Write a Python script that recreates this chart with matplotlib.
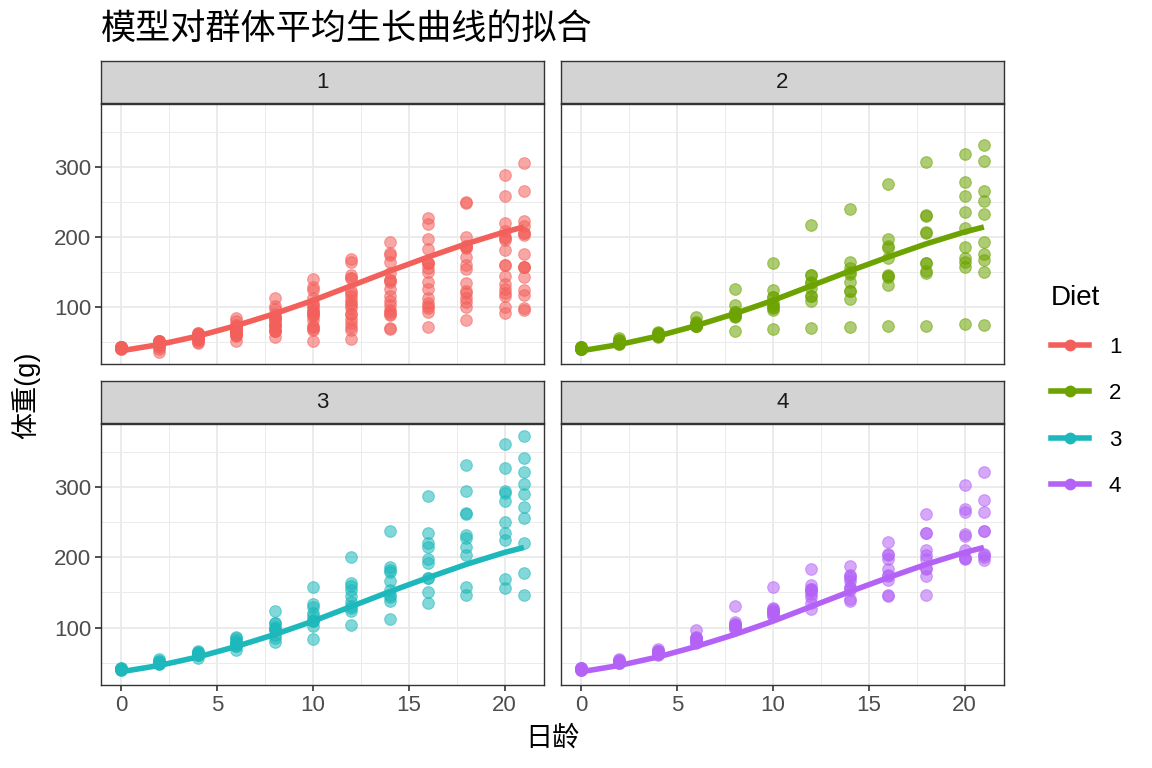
import matplotlib
matplotlib.use("Agg")
import matplotlib.pyplot as plt
from matplotlib.lines import Line2D
from matplotlib.ticker import MultipleLocator

plt.rcParams['font.family'] = ['Liberation Sans', 'Noto Sans CJK SC', 'DejaVu Sans']

# jours de mesure
times = [0, 2, 4, 6, 8, 10, 12, 14, 16, 18, 20, 21]

# poids par poussin (chaque liste commence au jour 0)
diet1 = [
    [42, 51, 59, 64, 76, 93, 106, 125, 149, 171, 199, 205],
    [40, 49, 58, 72, 84, 103, 122, 138, 162, 187, 209, 215],
    [43, 39, 55, 67, 84, 99, 115, 138, 163, 187, 198, 202],
    [42, 49, 56, 67, 74, 87, 102, 108, 136, 154, 160, 157],
    [41, 42, 48, 60, 79, 106, 141, 164, 197, 199, 220, 223],
    [41, 49, 59, 74, 97, 124, 141, 148, 155, 160, 160, 157],
    [41, 49, 57, 71, 89, 112, 146, 174, 218, 250, 288, 305],
    [42, 50, 61, 71, 84, 93, 110, 116, 126, 134, 125],
    [42, 51, 59, 68, 85, 96, 90, 92, 93, 100, 100, 98],
    [41, 44, 52, 63, 74, 81, 89, 96, 101, 112, 120, 124],
    [43, 51, 63, 84, 112, 139, 168, 177, 182, 184, 181, 175],
    [41, 49, 56, 62, 72, 88, 119, 135, 162, 185, 195, 205],
    [41, 48, 53, 60, 65, 67, 71, 70, 71, 81, 91, 96],
    [41, 49, 62, 79, 101, 128, 164, 192, 227, 248, 259, 266],
    [41, 49, 56, 64, 68, 68, 67, 68],
    [41, 45, 49, 51, 57, 51, 54],
    [42, 51, 61, 72, 83, 89, 98, 103, 113, 123, 133, 142],
    [39, 35],
    [43, 48, 55, 62, 65, 71, 82, 88, 106, 120, 144, 157],
    [41, 47, 54, 58, 65, 73, 77, 89, 98, 107, 115, 117],
]
diet2 = [
    [40, 50, 62, 86, 125, 163, 217, 240, 275, 307, 318, 331],
    [41, 55, 64, 77, 90, 95, 108, 111, 131, 148, 164, 167],
    [43, 52, 61, 73, 90, 103, 127, 135, 145, 163, 170, 175],
    [42, 52, 58, 74, 66, 68, 70, 71, 72, 72, 76, 74],
    [40, 49, 62, 78, 102, 124, 146, 164, 197, 231, 259, 265],
    [42, 48, 57, 74, 93, 114, 136, 147, 169, 205, 236, 251],
    [39, 46, 58, 73, 87, 100, 115, 123, 144, 163, 185, 192],
    [39, 46, 58, 73, 92, 114, 145, 156, 184, 207, 212, 233],
    [39, 48, 59, 74, 87, 106, 134, 150, 187, 230, 279, 309],
    [42, 48, 59, 72, 85, 98, 115, 122, 143, 151, 157, 150],
]
diet3 = [
    [42, 53, 62, 73, 85, 102, 123, 138, 170, 204, 235, 256],
    [41, 49, 65, 82, 107, 129, 159, 179, 221, 263, 291, 305],
    [39, 50, 63, 77, 96, 111, 137, 144, 151, 146, 156, 147],
    [41, 49, 63, 85, 107, 134, 164, 186, 235, 294, 327, 341],
    [41, 53, 64, 87, 123, 158, 201, 238, 287, 332, 361, 373],
    [39, 48, 61, 76, 98, 116, 145, 166, 198, 227, 225, 220],
    [41, 48, 56, 68, 80, 83, 103, 112, 135, 157, 169, 178],
    [41, 49, 61, 74, 98, 109, 128, 154, 192, 232, 280, 290],
    [42, 50, 61, 78, 89, 109, 130, 146, 170, 214, 250, 272],
    [41, 55, 66, 79, 101, 120, 154, 182, 215, 262, 295, 321],
]
diet4 = [
    [42, 51, 66, 85, 103, 124, 155, 153, 175, 184, 199, 204],
    [42, 49, 63, 84, 103, 126, 160, 174, 204, 234, 269, 281],
    [42, 55, 69, 96, 131, 157, 184, 188, 197, 198, 199, 200],
    [42, 51, 65, 86, 103, 118, 127, 138, 145, 146],
    [41, 50, 61, 78, 98, 117, 135, 141, 147, 174, 197, 196],
    [40, 52, 62, 82, 101, 120, 144, 156, 173, 210, 231, 238],
    [41, 53, 66, 79, 100, 123, 148, 157, 168, 185, 210, 205],
    [39, 50, 62, 80, 104, 125, 154, 170, 222, 261, 303, 322],
    [40, 53, 64, 85, 108, 128, 152, 166, 184, 203, 233, 237],
    [41, 54, 67, 84, 105, 122, 155, 175, 205, 234, 264, 264],
]

# courbe moyenne ajustee
fit_weight = [37, 46, 58, 73, 90, 109, 130, 151, 171, 190, 207, 214]

diets = ['1', '2', '3', '4']
diet_data = [diet1, diet2, diet3, diet4]
colors = ['#F3605B', '#6CA300', '#1CB8BB', '#B462F6']

fig = plt.figure(figsize=(11.52, 7.68), dpi=100)
W, H = 1152.0, 768.0

lefts = [101, 561]
panel_w = 443
rows = [(61, 104, 364), (381, 424, 685)]  # haut bandeau, haut panneau, bas panneau

for i in range(4):
    r, c = divmod(i, 2)
    st, pt, pb = rows[r]
    x0 = lefts[c]
    ax = fig.add_axes([x0 / W, 1 - pb / H, panel_w / W, (pb - pt) / H])
    sax = fig.add_axes([x0 / W, 1 - (pt - 1) / H, panel_w / W, (pt - 1 - st) / H])
    sax.set_facecolor('#D3D3D3')
    sax.set_xticks([])
    sax.set_yticks([])
    for s in sax.spines.values():
        s.set_color('#333333')
        s.set_linewidth(1.0)
    sax.text(0.5, 0.5, diets[i], ha='center', va='center', fontsize=16,
             color='#1A1A1A', transform=sax.transAxes)

    col = colors[i]
    for chick in diet_data[i]:
        ax.scatter(times[:len(chick)], chick, s=70, color=col, alpha=0.55,
                   edgecolors=col, linewidths=0.8, zorder=3)
    ax.plot(times, fit_weight, color=col, linewidth=4.0, zorder=4,
            solid_capstyle='butt')

    ax.set_xlim(-1.05, 22.05)
    ax.set_ylim(18.1, 389.9)
    ax.xaxis.set_major_locator(MultipleLocator(5))
    ax.xaxis.set_minor_locator(MultipleLocator(2.5))
    ax.set_yticks([100, 200, 300])
    ax.yaxis.set_minor_locator(MultipleLocator(50))
    ax.grid(which='major', color='#EBEBEB', linewidth=1.4, zorder=0)
    ax.grid(which='minor', color='#EBEBEB', linewidth=0.7, zorder=0)
    ax.set_axisbelow(True)
    for s in ax.spines.values():
        s.set_color('#333333')
        s.set_linewidth(1.0)
    ax.tick_params(which='minor', length=0)
    ax.tick_params(which='major', length=4, width=1.2, color='#333333',
                   labelsize=16, labelcolor='#4D4D4D', pad=3)
    if c == 1:
        ax.tick_params(axis='y', which='major', length=0, labelleft=False)
    if r == 0:
        ax.tick_params(axis='x', which='major', length=0, labelbottom=False)

fig.text(101 / W, 1 - 29 / H, '模型对群体平均生长曲线的拟合', fontsize=25.3,
         ha='left', va='center', color='black')
fig.text(552 / W, 1 - 739 / H, '日龄', fontsize=19.5, ha='center', va='center')
fig.text(26 / W, 1 - 395 / H, '体重(g)', fontsize=19.5, ha='center', va='center',
         rotation=90)

handles = [Line2D([0], [0], color=c, linewidth=4.0, marker='o', markersize=8.5,
                  markerfacecolor=c, markeredgecolor='none')
           for c in colors]
leg = fig.legend(handles, diets, title='Diet', loc='upper left',
                 bbox_to_anchor=(1031 / W, 1 - 265 / H), frameon=False,
                 fontsize=16, title_fontsize=20, handlelength=1.7,
                 handletextpad=0.9, labelspacing=1.15, alignment='left')

fig.savefig('out.png', dpi=100)
